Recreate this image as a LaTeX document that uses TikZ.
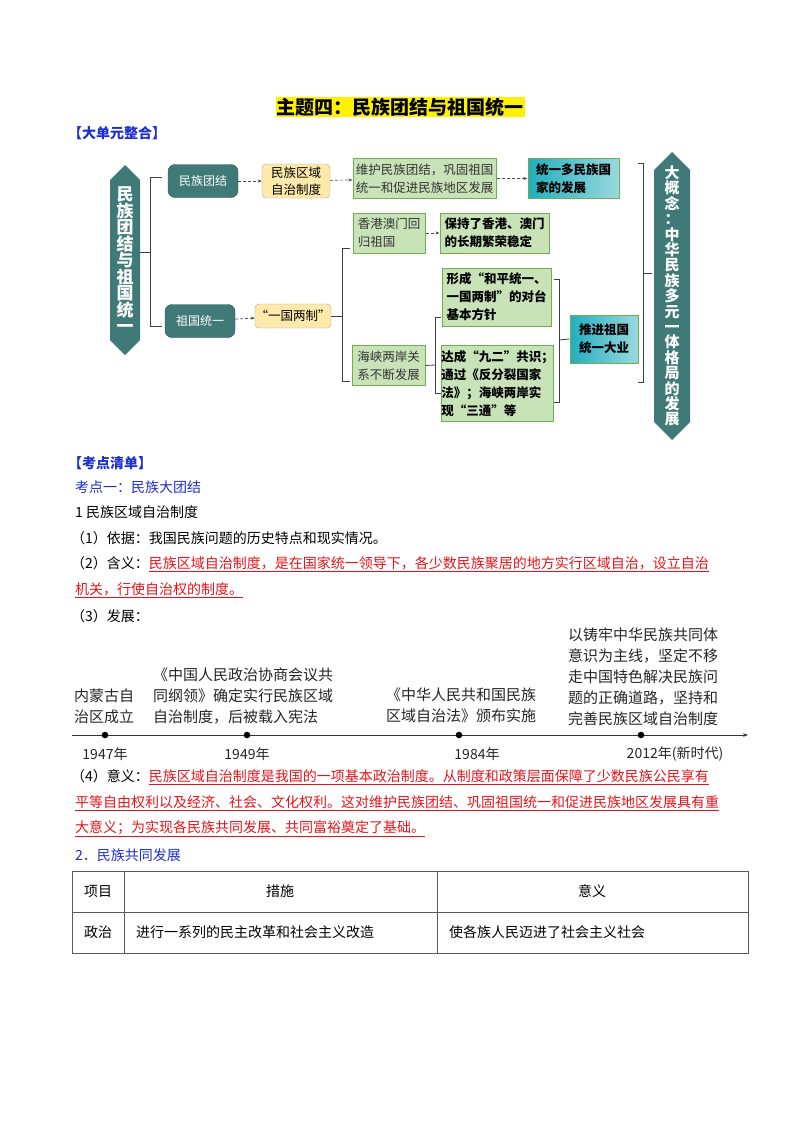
\documentclass[tikz,border=0pt]{standalone}
\usepackage{fontspec}
\setmainfont{Noto Sans CJK SC}
\usetikzlibrary{arrows.meta}
\definecolor{dteal}{HTML}{3F7A78}
\definecolor{yfill}{HTML}{FDE9A9}
\definecolor{gfill}{HTML}{C8E3B8}
\definecolor{gline}{HTML}{6FB04A}
\definecolor{tealA}{HTML}{22AEBE}
\definecolor{tealB}{HTML}{9AD8DE}
\definecolor{blu}{HTML}{1F2FD0}
\definecolor{rd}{HTML}{E8141B}
\newcommand{\fs}[1]{\fontsize{#1}{#1}\selectfont}
\newcommand{\fb}[2]{\fontsize{#1}{#2}\selectfont}
\tikzset{
 x=1pt,y=-1pt,
 dbox/.style={fill=dteal,draw=dteal!70!black,rounded corners=7pt,text=white,font=\fs{12},inner sep=0pt,minimum height=33pt},
 ybox/.style={fill=yfill,draw=gray!70,rounded corners=4pt,font=\fb{12.5}{17},inner sep=0pt,align=center},
 gbox/.style={fill=gfill,draw=gline,line width=1pt,font=\fb{12.5}{18},inner sep=0pt,align=left,text=black!80},
 gboxb/.style={gbox,font=\fb{12.5}{18}\bfseries,text=black},
 tbox/.style={left color=tealA,right color=tealB,draw=gline,line width=1pt,font=\fb{12.5}{18}\bfseries,inner sep=0pt,align=left},
 darr/.style={densely dashed,-{Stealth[length=4pt]},gray!60!black,line width=0.6pt},
 brk/.style={gray!50!black,line width=0.8pt},
 bt/.style={anchor=west,font=\fs{14},inner sep=0pt},
 tl/.style={font=\fb{15}{21},align=left,inner sep=0pt,text=black!85},
}
\begin{document}
\begin{tikzpicture}
\useasboundingbox (0,0) rectangle (800,1132);
\fill[white] (0,0) rectangle (800,1132);
% title
\node[fill=yellow,inner sep=1pt,font=\fs{19}\bfseries] (title) at (400,107) {主题四：民族团结与祖国统一};
\node[bt,text=blu,font=\fs{14}\bfseries] (h1) at (68,133) {【大单元整合】};
% left hexagon
\fill[dteal] (125,165) -- (140,180) -- (140,340) -- (125,355) -- (110,340) -- (110,180) -- cycle;
\node[text=white,font=\fs{17}\bfseries,align=center,inner sep=0pt] (lhex) at (125,260) {民\\[-0.5pt]族\\[-0.5pt]团\\[-0.5pt]结\\[-0.5pt]与\\[-0.5pt]祖\\[-0.5pt]国\\[-0.5pt]统\\[-0.5pt]一};
% right hexagon
\fill[dteal] (672,152) -- (690,170) -- (690,422) -- (672,440) -- (654,422) -- (654,170) -- cycle;
\node[text=white,font=\fs{15}\bfseries,align=center,inner sep=0pt] (rhex) at (672,296) {大\\[0.4pt]概\\[0.4pt]念\\[0.4pt]：\\[0.4pt]中\\[0.4pt]华\\[0.4pt]民\\[0.4pt]族\\[0.4pt]多\\[0.4pt]元\\[0.4pt]一\\[0.4pt]体\\[0.4pt]格\\[0.4pt]局\\[0.4pt]的\\[0.4pt]发\\[0.4pt]展};
% nodes
\node[dbox,minimum width=70pt] (mztj) at (203,181) {民族团结};
\node[dbox,minimum width=70pt] (zgty) at (200,321) {祖国统一};
\node[ybox,minimum width=68pt,minimum height=34pt] (zzzd) at (296,181) {民族区域\\自治制度};
\node[ybox,minimum width=76pt,minimum height=24pt] (ygl) at (293,316) {“一国两制”};
\node[gbox,minimum width=143pt,minimum height=40pt] (wh) at (424.5,178.5) {维护民族团结，巩固祖国\\统一和促进民族地区发展};
\node[tbox,minimum width=91pt,minimum height=40pt] (ty) at (573.5,178.5) {统一多民族国\\家的发展};
\node[gbox,minimum width=72pt,minimum height=40pt] (xg) at (389,233) {香港澳门回\\归祖国};
\node[gboxb,minimum width=109pt,minimum height=40pt] (bc) at (494.5,233) {保持了香港、澳门\\的长期繁荣稳定};
\node[gboxb,minimum width=109pt,minimum height=58pt] (xc) at (496.5,297) {形成“和平统一、\\一国两制”的对台\\基本方针};
\node[gboxb,minimum width=109pt,minimum height=76pt] (dc) at (497.5,383.5) {达成“九二”共识；\\通过《反分裂国家\\法》；海峡两岸实\\现“三通”等};
\node[gbox,minimum width=73pt,minimum height=40pt] (hx) at (388.5,365.5) {海峡两岸关\\系不断发展};
\node[tbox,minimum width=68pt,minimum height=48pt] (tj) at (604,339) {推进祖国\\统一大业};
% arrows
\draw[darr] (mztj) -- (zzzd);
\draw[darr] (zzzd) -- (wh);
\draw[darr] (wh) -- (ty);
\draw[darr] (xg) -- (bc);
\draw[darr] (zgty) -- (ygl);
% brackets
\draw[brk] (140,252) -- (150,252);
\draw[brk] (162,177) -- (150,177) -- (150,326) -- (162,326);
\draw[brk] (ygl.east) -- (342,316);
\draw[brk] (350,248) -- (342,248) -- (342,381) -- (350,381);
\draw[brk] (hx.east) -- (435,365);
\draw[brk] (441,317) -- (435,317) -- (435,393) -- (441,393);
\draw[brk] (554,279) -- (559,279) -- (559,402) -- (554,402);
\draw[brk] (559,340) -- (tj.west);
\draw[brk] (638,163) -- (643,163) -- (643,382) -- (638,382);
\draw[brk] (643,273) -- (652,273);
% text section
\node[bt,text=blu,font=\fs{14}\bfseries] (h2) at (68,463) {【考点清单】};
\node[bt,text=blu] (k1) at (75,487) {考点一：民族大团结};
\node[bt] (t1) at (75,512) {1 民族区域自治制度};
\node[bt] (t2) at (71,538) {（1）依据：我国民族问题的历史特点和现实情况。};
\node[bt] (t3) at (71,564) {（2）含义：\textcolor{rd}{\underline{民族区域自治制度，是在国家统一领导下，各少数民族聚居的地方实行区域自治，设立自治}}};
\node[bt,text=rd] (t4) at (75,590) {\underline{机关，行使自治权的制度。}};
\node[bt] (t5) at (71,616) {（3）发展：};
% timeline
\coordinate (ts) at (72,735);
\coordinate (te) at (748,735);
\draw[line width=0.8pt,-{Stealth[length=5pt]},black!80] (ts) -- (te);
\foreach \n/\x in {d1/105,d2/247,d3/459,d4/641}{\fill (\x,735) circle (3.3pt); \coordinate (\n) at (\x,735);}
\node[tl,font=\fs{14}] (y1) at (105,754) {1947年};
\node[tl,font=\fs{14}] (y2) at (247,754) {1949年};
\node[tl,font=\fs{14}] (y3) at (477,754) {1984年};
\node[tl,font=\fs{14}] (y4) at (675,754) {2012年(新时代)};
\node[tl,anchor=west] (e1) at (74,706) {内蒙古自\\治区成立};
\node[tl,anchor=west] (e2) at (153,696) {《中国人民政治协商会议共\\同纲领》确定实行民族区域\\自治制度，后被载入宪法};
\node[tl,anchor=west] (e3) at (386,705) {《中华人民共和国民族\\区域自治法》颁布实施};
\node[tl,anchor=west] (e4) at (568,677) {以铸牢中华民族共同体\\意识为主线，坚定不移\\走中国特色解决民族问\\题的正确道路，坚持和\\完善民族区域自治制度};
% meaning
\node[bt] (t6) at (71,777) {（4）意义：\textcolor{rd}{\underline{民族区域自治制度是我国的一项基本政治制度。从制度和政策层面保障了少数民族公民享有}}};
\node[bt,text=rd] (t7) at (75,803) {\underline{平等自由权利以及经济、社会、文化权利。这对维护民族团结、巩固祖国统一和促进民族地区发展具有重}};
\node[bt,text=rd] (t8) at (75,829) {\underline{大意义；为实现各民族共同发展、共同富裕奠定了基础。}};
\node[bt,text=blu] (k2) at (75,855) {2．民族共同发展};
% table
\draw[gray!70!black,line width=0.6pt] (72,871) rectangle (748,953);
\draw[gray!70!black,line width=0.6pt] (72,912) -- (748,912) (124,871) -- (124,953) (437,871) -- (437,953);
\node[font=\fs{14},inner sep=0pt] (c1) at (98,891) {项目};
\node[font=\fs{14},inner sep=0pt] (c2) at (280,891) {措施};
\node[font=\fs{14},inner sep=0pt] (c3) at (592,891) {意义};
\node[font=\fs{14},inner sep=0pt] (c4) at (98,932) {政治};
\node[bt] (c5) at (136,932) {进行一系列的民主改革和社会主义改造};
\node[bt] (c6) at (449,932) {使各族人民迈进了社会主义社会};
\end{tikzpicture}
\end{document}
